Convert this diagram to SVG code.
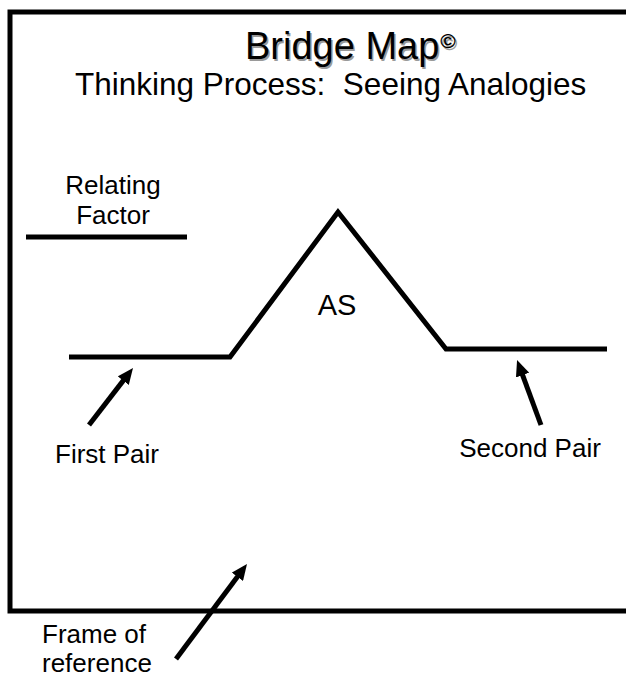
<svg xmlns="http://www.w3.org/2000/svg" width="626" height="679" viewBox="0 0 626 679">
<style>
.t{font-family:"Liberation Sans",Arial,sans-serif;fill:#000}
.lb{font-size:26px}
.ln{stroke:#000;stroke-width:5;fill:none}
.ar{stroke:#000;stroke-width:5;fill:none;marker-end:url(#ah)}
.sh{fill:#9a9a9a}
</style>
<defs>
<marker id="ah" markerWidth="16" markerHeight="14" refX="6" refY="7" orient="auto" markerUnits="userSpaceOnUse">
<path d="M0,0 L16,7 L0,14 Z" fill="#000"/>
</marker>
</defs>
<rect width="626" height="679" fill="#fff"/>
<g id="frame">
<path class="ln" d="M640,12 H10 V611 H640"/>
</g>
<g id="title">
<text class="t sh" x="246.5" y="60.5" font-size="38">Bridge Map<tspan font-weight="bold" font-size="21" dx="1" dy="-11">©</tspan></text>
<text class="t" x="245" y="59" font-size="38">Bridge Map<tspan font-weight="bold" font-size="21" dx="1" dy="-11">©</tspan></text>
<text class="t" x="75" y="95" font-size="31.5" xml:space="preserve">Thinking Process:  Seeing Analogies</text>
</g>
<g id="relating-factor">
<text class="t lb" x="113" y="194" text-anchor="middle">Relating</text>
<text class="t lb" x="113" y="224" text-anchor="middle">Factor</text>
<line class="ln" x1="26" y1="237" x2="187" y2="237"/>
</g>
<g id="bridge">
<path class="ln" d="M69,357 H230 L338,212 L446,349 H607"/>
<text class="t" x="337" y="315" font-size="29" text-anchor="middle">AS</text>
</g>
<g id="first-pair">
<text class="t lb" x="107" y="463" text-anchor="middle">First Pair</text>
</g>
<g id="second-pair">
<text class="t lb" x="530" y="457" text-anchor="middle">Second Pair</text>
</g>
<g id="frame-of-reference">
<text class="t lb" x="42" y="643">Frame of</text>
<text class="t lb" x="42" y="672">reference</text>
</g>
<g id="connectors">
<line class="ar" x1="89" y1="425" x2="126.9" y2="375.9"/>
<line class="ar" x1="541" y1="425" x2="520.5" y2="369.4"/>
<line class="ar" x1="176" y1="659" x2="241" y2="572"/>
</g>
</svg>
